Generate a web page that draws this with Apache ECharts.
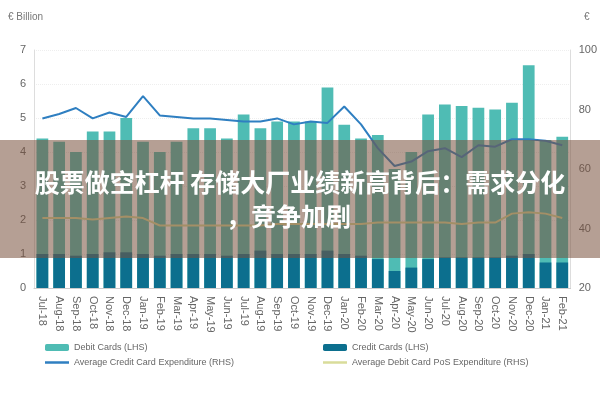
<!DOCTYPE html>
<html><head><meta charset="utf-8">
<script src="https://cdn.jsdelivr.net/npm/echarts@6/dist/echarts.min.js"></script>
<style>html,body{margin:0;padding:0;background:#fff}#c{width:600px;height:400px}</style>
</head><body><div id="c"></div>
<script>
const categories=['Jul-18','Aug-18','Sep-18','Oct-18','Nov-18','Dec-18','Jan-19','Feb-19','Mar-19','Apr-19','May-19','Jun-19','Jul-19','Aug-19','Sep-19','Oct-19','Nov-19','Dec-19','Jan-20','Feb-20','Mar-20','Apr-20','May-20','Jun-20','Jul-20','Aug-20','Sep-20','Oct-20','Nov-20','Dec-20','Jan-21','Feb-21'];
const debitCards=[4.4,4.3,4.0,4.6,4.6,5.0,4.3,4.0,4.3,4.7,4.7,4.4,5.1,4.7,4.9,4.9,4.9,5.9,4.8,4.4,4.5,3.5,4.0,5.1,5.4,5.35,5.3,5.25,5.45,6.55,4.35,4.45];
const creditCards=[1.0,1.0,0.95,1.0,1.05,1.05,1.0,0.95,1.0,1.0,1.0,0.95,1.0,1.1,1.0,1.0,1.0,1.1,1.0,0.95,0.85,0.5,0.6,0.85,0.9,0.9,0.9,0.9,0.95,1.0,0.75,0.75];
const avgCredit=[77,78.5,80.5,77,79,77.5,84.5,78,77.5,77,77,76.5,76,76,77,75,76,75.5,81,75,67,61,62.5,66,67,64,68,67.5,70,70,69.5,68];
const avgDebitPoS=[43.5,43.5,43.5,43,43.5,44,43.5,41,41,41,41,41,41,41,41.5,41.5,41.5,41.5,41.5,41.5,42,42,42,42,42,41.5,42,42,45,45.5,45,43.5];
const chart=echarts.init(document.getElementById('c'));
const lab={color:'#666',fontSize:11,fontFamily:'Liberation Sans Narrow, Liberation Sans'};
const lineIcon='path://M0,0H24V2.5H0Z';
chart.setOption({
 animation:false,
 grid:{left:34,right:28,top:50,bottom:112},
 xAxis:{type:'category',data:categories,axisTick:{show:false},axisLine:{lineStyle:{color:'#ccc'}},axisLabel:Object.assign({rotate:-90,interval:0,fontSize:10},lab)},
 yAxis:[{type:'value',min:0,max:7,interval:1,axisLabel:lab,splitLine:{lineStyle:{color:'#eee',type:'dotted'}},axisLine:{show:true,lineStyle:{color:'#ddd'}}},
  {type:'value',min:20,max:100,interval:20,axisLabel:lab,splitLine:{show:false},axisLine:{show:true,lineStyle:{color:'#ddd'}}}],
 legend:[{left:40,top:338,orient:'vertical',itemGap:6,itemWidth:24,itemHeight:7,textStyle:{color:'#666',fontSize:9},data:['Debit Cards (LHS)',{name:'Average Credit Card Expenditure (RHS)',icon:lineIcon}]},
  {left:318,top:338,orient:'vertical',itemGap:6,itemWidth:24,itemHeight:7,textStyle:{color:'#666',fontSize:9},data:['Credit Cards (LHS)',{name:'Average Debit Card PoS Expenditure (RHS)',icon:lineIcon}]}],
 series:[
  {name:'Debit Cards (LHS)',type:'bar',data:debitCards,barWidth:'70%',itemStyle:{color:'#4fbcb4'}},
  {name:'Credit Cards (LHS)',type:'bar',data:creditCards,barWidth:'70%',barGap:'-100%',itemStyle:{color:'#0c6f8e'}},
  {name:'Average Credit Card Expenditure (RHS)',type:'line',yAxisIndex:1,data:avgCredit,symbol:'none',lineStyle:{color:'#2f7fc1',width:2},itemStyle:{color:'#2f7fc1'}},
  {name:'Average Debit Card PoS Expenditure (RHS)',type:'line',yAxisIndex:1,data:avgDebitPoS,symbol:'none',lineStyle:{color:'#d9dc9a',width:2},itemStyle:{color:'#d9dc9a'}}
 ],
 graphic:[
  {type:'text',left:8,top:12,style:{text:'€ Billion',fill:'#777',fontSize:10}},
  {type:'text',left:584,top:12,style:{text:'€',fill:'#777',fontSize:10}},
  {type:'rect',shape:{x:0,y:140,width:600,height:118},style:{fill:'rgba(120,80,60,0.55)'},z:100},
  {type:'text',left:'center',top:170,z:101,style:{text:'股票做空杠杆 存储大厂业绩新高背后：需求分化',fill:'#fff',fontSize:25,fontWeight:'bold',fontFamily:'Noto Sans CJK SC'}},
  {type:'text',left:226,top:204,z:101,style:{text:'，竞争加剧',fill:'#fff',fontSize:25,fontWeight:'bold',fontFamily:'Noto Sans CJK SC'}}
 ]
});
</script></body></html>
